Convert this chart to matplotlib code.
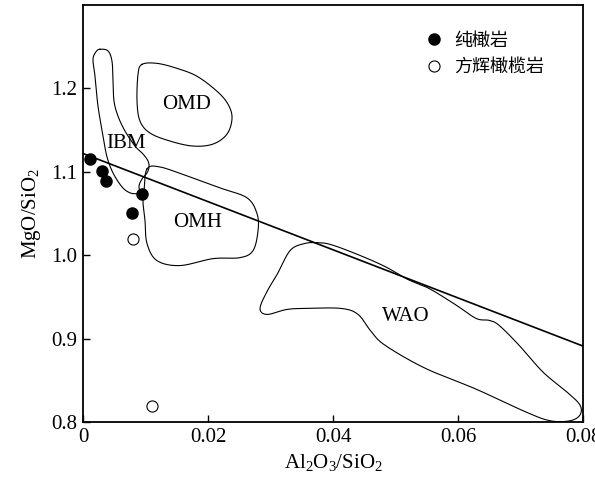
import numpy as np
import matplotlib.pyplot as plt

plt.rcParams['font.family'] = ['Liberation Serif', 'Noto Sans CJK SC']
plt.rcParams['mathtext.fontset'] = 'custom'
plt.rcParams['mathtext.rm'] = 'Liberation Serif'
plt.rcParams['mathtext.it'] = 'Liberation Serif:italic'

# sample points
dunite_x = [0.0011, 0.0030, 0.0037, 0.0094, 0.0078]
dunite_y = [1.115, 1.101, 1.089, 1.074, 1.051]
harz_x = [0.0080, 0.0110]
harz_y = [1.019, 0.819]

# regression line end points
line_x = [0.0, 0.08]
line_y = [1.122, 0.891]

# field outlines (Al2O3/SiO2, MgO/SiO2)
ibm = [(0.00272, 1.2470), (0.0040, 1.2450), (0.00464, 1.2325), (0.0048, 1.2086),
       (0.00496, 1.1847), (0.0056, 1.1668), (0.00672, 1.1489), (0.00832, 1.1309),
       (0.0096, 1.1214), (0.0104, 1.1130), (0.01056, 1.1058), (0.01024, 1.0987),
       (0.00944, 1.0915), (0.00896, 1.0831), (0.00912, 1.0748), (0.0088, 1.0736),
       (0.00752, 1.0748), (0.00624, 1.0819), (0.0048, 1.0987), (0.00384, 1.1178),
       (0.0032, 1.1429), (0.0024, 1.1787), (0.00192, 1.2146), (0.0016, 1.2349),
       (0.00208, 1.2440)]
omh = [(0.01024, 1.1035), (0.01232, 1.1058), (0.01664, 1.0951), (0.02192, 1.0807),
       (0.02624, 1.0688), (0.02784, 1.0497), (0.0280, 1.0294), (0.0272, 1.0055),
       (0.02512, 0.9971), (0.0208, 0.9959), (0.01552, 0.9876), (0.01184, 0.9935),
       (0.01024, 1.0139), (0.00992, 1.0413), (0.0096, 1.0628), (0.00976, 1.0772)]
omd = [(0.00944, 1.2289), (0.01184, 1.2301), (0.01504, 1.2241), (0.01824, 1.2146),
       (0.02144, 1.1966), (0.0232, 1.1811), (0.02384, 1.1644), (0.02304, 1.1453),
       (0.0208, 1.1333), (0.0176, 1.1309), (0.01392, 1.1369), (0.01072, 1.1465),
       (0.00912, 1.1608), (0.00864, 1.1847), (0.0088, 1.2170)]
wao = [(0.03744, 1.0150), (0.03968, 1.0127), (0.0440, 1.0007), (0.04832, 0.9864),
       (0.0520, 0.9708), (0.05536, 0.9601), (0.05952, 0.9410), (0.06288, 0.9242),
       (0.06496, 0.9219), (0.06656, 0.9159), (0.06976, 0.8920), (0.0736, 0.8597),
       (0.07744, 0.8358), (0.0795, 0.8203), (0.0795, 0.8084), (0.07792, 0.8015),
       (0.07472, 0.8015), (0.07088, 0.8119), (0.06288, 0.8394), (0.05472, 0.8645),
       (0.04832, 0.8920), (0.04608, 0.9087), (0.0440, 0.9290), (0.04128, 0.9362),
       (0.03584, 0.9362), (0.03264, 0.9350), (0.02944, 0.9290), (0.02832, 0.9362),
       (0.02944, 0.9565), (0.03104, 0.9768), (0.03312, 1.0055), (0.03536, 1.0139)]

fields = {'IBM': ibm, 'OMH': omh, 'OMD': omd, 'WAO': wao}
field_labels = {'IBM': (0.0068, 1.134), 'OMH': (0.0183, 1.039),
                'OMD': (0.0166, 1.181), 'WAO': (0.0516, 0.927)}


def smooth_closed(pts, n=20):
    # closed Catmull-Rom curve through the traced points
    p = np.asarray(pts)
    m = len(p)
    t = np.linspace(0, 1, n, endpoint=False)[:, None]
    out = []
    for i in range(m):
        p0, p1, p2, p3 = p[i - 1], p[i], p[(i + 1) % m], p[(i + 2) % m]
        seg = 0.5 * ((2 * p1) + (-p0 + p2) * t + (2 * p0 - 5 * p1 + 4 * p2 - p3) * t ** 2
                     + (-p0 + 3 * p1 - 3 * p2 + p3) * t ** 3)
        out.append(seg)
    out = np.vstack(out)
    return np.vstack([out, out[:1]])


fig = plt.figure(figsize=(5.95, 4.82), dpi=100)
ax = fig.add_axes([0.1395, 0.1245, 0.8405, 0.865])

for name, pts in fields.items():
    c = smooth_closed(pts)
    ax.plot(c[:, 0], c[:, 1], color='black', lw=0.8)
    ax.text(*field_labels[name], name, fontsize=15, ha='center', va='center')

ax.plot(line_x, line_y, color='black', lw=1.2)
ax.plot(dunite_x, dunite_y, 'o', color='black', ms=8, label='纯橄岩')
ax.plot(harz_x, harz_y, 'o', mfc='white', mec='black', mew=0.8, ms=8,
        label='方辉橄榄岩')

ax.set_xlim(0, 0.08)
ax.set_ylim(0.8, 1.3)
ax.set_xticks([0, 0.02, 0.04, 0.06, 0.08])
ax.set_xticklabels(['0', '0.02', '0.04', '0.06', '0.08'])
ax.set_yticks([0.8, 0.9, 1.0, 1.1, 1.2])
ax.set_yticklabels(['0.8', '0.9', '1.0', '1.1', '1.2'])
ax.tick_params(direction='in', length=5, width=1, labelsize=15, pad=4)
for s in ax.spines.values():
    s.set_linewidth(1.3)

ax.set_xlabel('Al$_2$O$_3$/SiO$_2$', fontsize=15, labelpad=4)
ax.set_ylabel('MgO/SiO$_2$', fontsize=15, labelpad=6)

leg = ax.legend(loc='upper right', bbox_to_anchor=(0.955, 0.975), frameon=False,
                prop={'family': 'Noto Sans CJK SC', 'size': 13},
                handletextpad=0.6, labelspacing=0.45, handlelength=1.0)

fig.savefig('out.png', dpi=100)
